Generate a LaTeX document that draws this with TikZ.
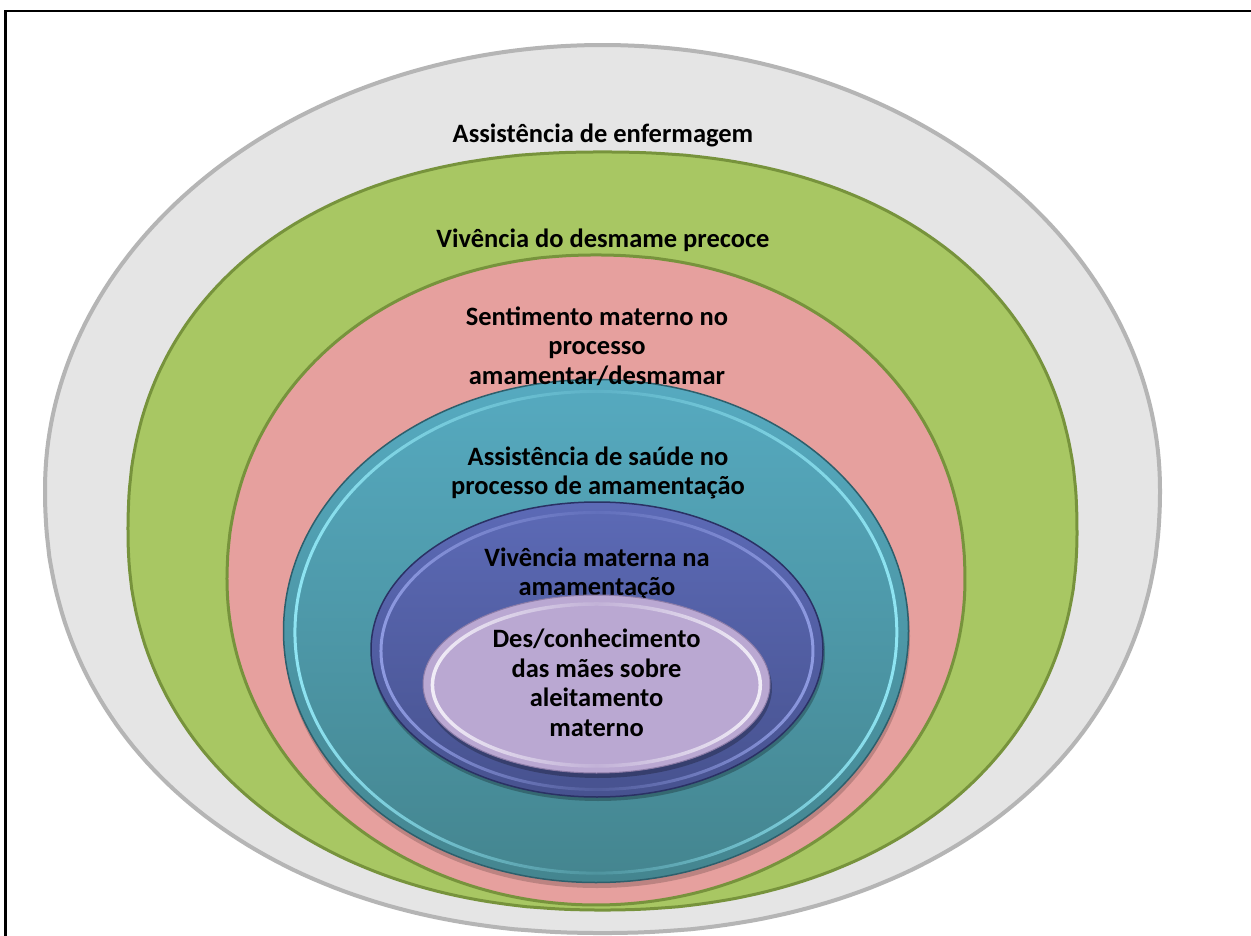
\documentclass[tikz,border=0pt]{standalone}
\usepackage{fontspec}
\setmainfont{Carlito}
\usetikzlibrary{shapes.geometric,fadings}
\definecolor{greyfill}{HTML}{E5E5E5}
\definecolor{greyline}{HTML}{B5B5B5}
\definecolor{greenfill}{HTML}{A8C763}
\definecolor{greenline}{HTML}{77933C}
\definecolor{pinkfill}{HTML}{E6A09E}
\definecolor{tealtop}{HTML}{56AAC0}
\definecolor{tealbot}{HTML}{44858F}
\definecolor{tealrim}{HTML}{2D5F6C}
\definecolor{tealhi}{HTML}{90E6F4}
\definecolor{bluetop}{HTML}{5C6AB6}
\definecolor{bluebot}{HTML}{47528F}
\definecolor{bluerim}{HTML}{2A3164}
\definecolor{bluehi}{HTML}{8F9BE2}
\definecolor{lavfill}{HTML}{BAA8D2}
\definecolor{lavhi}{HTML}{F2EEF8}
\definecolor{lavrim}{HTML}{8C7CA8}
\tikzfading[name=sides, left color=transparent!0, right color=transparent!0, middle color=transparent!85]
% superellipse with separate top/bottom half-heights and exponents
\newcommand{\eggpath}[7]{plot[domain=180.2:359.8,samples=150] ({#1+#3*sign(cos(\x))*pow(abs(cos(\x)),2/#6)},{#2+#4*sign(sin(\x))*pow(abs(sin(\x)),2/#6)}) -- plot[domain=0.2:179.8,samples=150] ({#1+#3*sign(cos(\x))*pow(abs(cos(\x)),2/#7)},{#2+#5*sign(sin(\x))*pow(abs(sin(\x)),2/#7)}) -- cycle}
\begin{document}
\begin{tikzpicture}[x=1pt,y=-1pt,
  lab/.style={font=\bfseries\fontsize{26.5}{29.5}\selectfont, align=center, text=black, inner sep=0},
  oval/.style={ellipse, inner sep=0, outer sep=0}]
\useasboundingbox (0,0) rectangle (1251,936);
\fill[white] (0,0) rectangle (1251,936);
\clip (0,0) rectangle (1251,936);
\draw[line width=2.5pt] (1260,11) -- (5.5,11) -- (5.5,945);
% outer layers
\draw[draw=greyline, line width=4pt, fill=greyfill] \eggpath{602.5}{489}{557.5}{444}{444}{2.0}{2.15};
\draw[draw=greenline, line width=3pt, fill=greenfill] \eggpath{602.5}{531}{474.5}{379}{379}{2.25}{2.15};
\draw[draw=greenline, line width=3pt, fill=pinkfill] \eggpath{596}{580}{369}{325}{325}{2.1}{2.0};
% teal
\fill[black, opacity=0.18] (597,636) ellipse [x radius=313pt, y radius=252pt];
\node[oval, draw=tealrim, line width=1.5pt, top color=tealtop, bottom color=tealbot, minimum width=625pt, minimum height=503pt] (e4) at (596,631) {};
\node[oval, draw=tealhi, line width=3pt, path fading=sides, minimum width=602pt, minimum height=482pt] (e4h) at (596,632) {};
\node[lab] (t1) at (603,135) {Assistência de enfermagem};
\node[lab] (t2) at (603,240) {Vivência do desmame precoce};
\node[lab] (t3) at (597,346) {Sentimento materno no\\processo\\amamentar/desmamar};
\node[lab] (t4) at (598,473) {Assistência de saúde no\\processo de amamentação};
% blue
\fill[black, opacity=0.25] (598,653) ellipse [x radius=227pt, y radius=148pt];
\node[oval, draw=bluerim, line width=1.5pt, top color=bluetop, bottom color=bluebot, minimum width=452pt, minimum height=295pt] (e5) at (597,649.5) {};
\node[oval, draw=bluehi, line width=3pt, path fading=sides, minimum width=432pt, minimum height=277pt] (e5h) at (597,651) {};
\node[lab] (t5) at (597,574) {Vivência materna na\\amamentação};
% lavender
\fill[black, opacity=0.25] (598,688) ellipse [x radius=174pt, y radius=90pt];
\node[oval, draw=lavrim, line width=1pt, fill=lavfill, minimum width=347pt, minimum height=178pt] (e6) at (596.5,684) {};
\node[oval, draw=lavhi, line width=3.5pt, path fading=sides, minimum width=328pt, minimum height=162pt] (e6h) at (596.5,685) {};
\node[lab] (t6) at (596.5,683) {Des/conhecimento\\das mães sobre\\aleitamento\\materno};
\end{tikzpicture}
\end{document}
